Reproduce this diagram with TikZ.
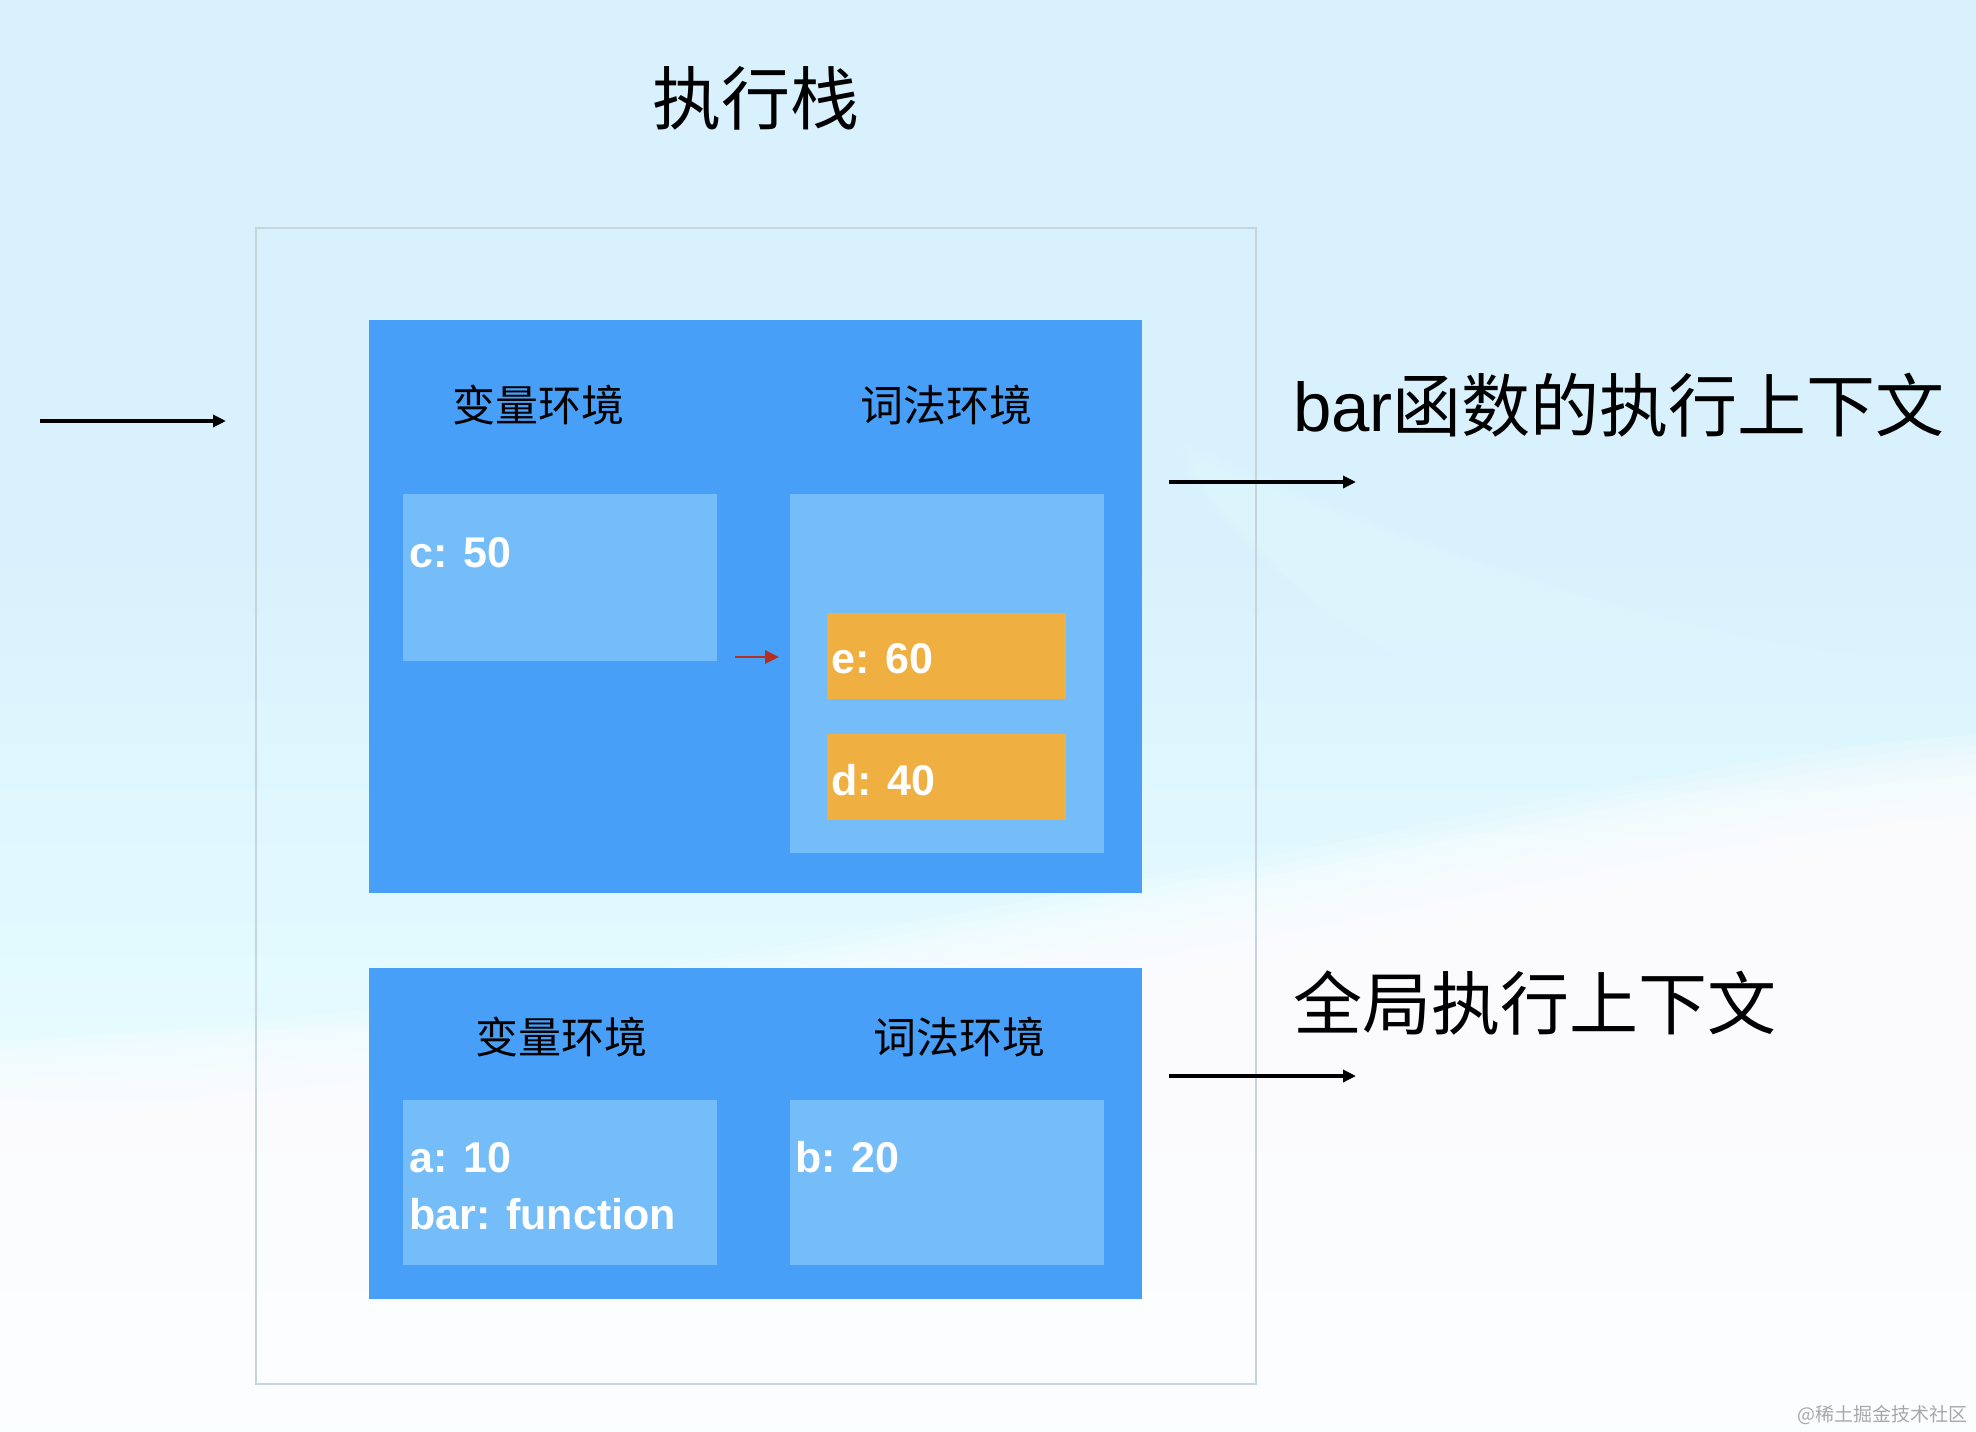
\documentclass[tikz,border=0pt]{standalone}
\usepackage{fontspec}
\setmainfont{Liberation Sans}
\newfontfamily\cjk{Noto Sans CJK SC}
\usetikzlibrary{arrows.meta}
\definecolor{bgA}{HTML}{D9F1FC}
\definecolor{bgB}{HTML}{E2FAFE}
\definecolor{bgBand}{HTML}{DEF6FE}
\definecolor{envblue}{HTML}{479FF7}
\definecolor{innerblue}{HTML}{74BDF8}
\definecolor{varorange}{HTML}{F0AF41}
\definecolor{linkred}{HTML}{B3301F}
\definecolor{framegray}{HTML}{C6D4DC}
\definecolor{markgray}{HTML}{A8A8A8}
\pgfdeclareverticalshading{bgshade}{100bp}{color(0bp)=(white); color(18bp)=(white); color(42bp)=(bgB); color(56bp)=(bgA); color(100bp)=(bgA)}
\begin{document}
\begin{tikzpicture}[x=1pt,y=-1pt,
  box/.style={draw=none, inner sep=0pt, outer sep=0pt, anchor=north west},
  envbox/.style={box, fill=envblue},
  slotbox/.style={box, fill=innerblue},
  varbox/.style={box, fill=varorange},
  envlabel/.style={font=\cjk\fontsize{43}{50}\selectfont, text=black, inner sep=0pt},
  vallabel/.style={font=\bfseries\fontsize{43}{52}\selectfont, text=white, inner sep=0pt, anchor=base west},
  biglabel/.style={font=\cjk\fontsize{69}{80}\selectfont, text=black, inner sep=0pt},
  blackarrow/.style={draw=black, line width=3.2pt, -{Triangle[length=13pt,width=12pt]}},
  redarrow/.style={draw=linkred, line width=2.7pt, -{Triangle[length=14pt,width=13pt]}},
]
\useasboundingbox (0,0) rectangle (1976,1432);
% ---------- background ----------
\shade[shading=bgshade] (0,0) rectangle (1976,1432);
\foreach \k in {0,...,4} {
  \fill[bgBand, opacity=0.35] ([yshift=-\k*6pt]1180,440) .. controls (1450,560) and (1720,660) .. ([yshift=-\k*6pt]1976,662)
    -- (1976,760) .. controls (1650,790) and (1350,700) .. cycle;
}
\foreach \k in {0,...,17} {
  \fill[white, opacity=0.2] (0,{1040+\k*10}) .. controls (500,{1020+\k*10}) and (1000,{900+\k*10}) .. (1260,{858+\k*10})
    .. controls (1550,{800+\k*10}) and (1800,{745+\k*10}) .. (1976,{735+\k*10})
    -- (1976,1432) -- (0,1432) -- cycle;
}
% ---------- title ----------
\node[biglabel] (title) at (756,98) {执行栈};
% ---------- execution stack frame ----------
\node[box, draw=framegray, line width=1.5pt, minimum width=1000pt, minimum height=1156pt] (stack) at (256,228) {};
% ---------- bar execution context ----------
\node[envbox, minimum width=773pt, minimum height=573pt] (barctx) at (369,320) {};
\node[envlabel] (barvarlbl) at (538,405) {变量环境};
\node[envlabel] (barlexlbl) at (946,405) {词法环境};
\node[slotbox, minimum width=314pt, minimum height=167pt] (barvar) at (403,494) {};
\node[slotbox, minimum width=314pt, minimum height=359pt] (barlex) at (790,494) {};
\node[varbox, minimum width=239pt, minimum height=86pt] (ebox) at (827,613) {};
\node[varbox, minimum width=239pt, minimum height=86pt] (dbox) at (827,734) {};
\node[vallabel] (cval) at (409,567) {c: 50};
\node[vallabel] (eval) at (831,673) {e: 60};
\node[vallabel] (dval) at (831,795) {d: 40};
\coordinate (linkS) at (735,657);
\coordinate (linkE) at (779,657);
\draw[redarrow] (linkS) -- (linkE);
% ---------- global execution context ----------
\node[envbox, minimum width=773pt, minimum height=331pt] (globctx) at (369,968) {};
\node[envlabel] (globvarlbl) at (561,1037) {变量环境};
\node[envlabel] (globlexlbl) at (959,1037) {词法环境};
\node[slotbox, minimum width=314pt, minimum height=165pt] (globvar) at (403,1100) {};
\node[slotbox, minimum width=314pt, minimum height=165pt] (globlex) at (790,1100) {};
\node[vallabel] (aval) at (409,1172) {a: 10};
\node[vallabel] (barval) at (409,1229) {bar: function};
\node[vallabel] (bval) at (795,1172) {b: 20};
% ---------- side labels and arrows ----------
\node[biglabel, anchor=west] (barlbl) at (1293,405) {{\rmfamily bar}函数的执行上下文};
\node[biglabel, anchor=west] (globlbl) at (1293,1003) {全局执行上下文};
\coordinate (inS) at (40,421);
\coordinate (inE) at (226,421);
\draw[blackarrow] (inS) -- (inE);
\coordinate (barS) at (1169,482);
\coordinate (barE) at (1356,482);
\draw[blackarrow] (barS) -- (barE);
\coordinate (globS) at (1169,1076);
\coordinate (globE) at (1356,1076);
\draw[blackarrow] (globS) -- (globE);
% ---------- watermark ----------
\node[font=\cjk\fontsize{19}{22}\selectfont, text=markgray, inner sep=0pt, anchor=east] (mark) at (1968,1415) {@稀土掘金技术社区};
\end{tikzpicture}
\end{document}
